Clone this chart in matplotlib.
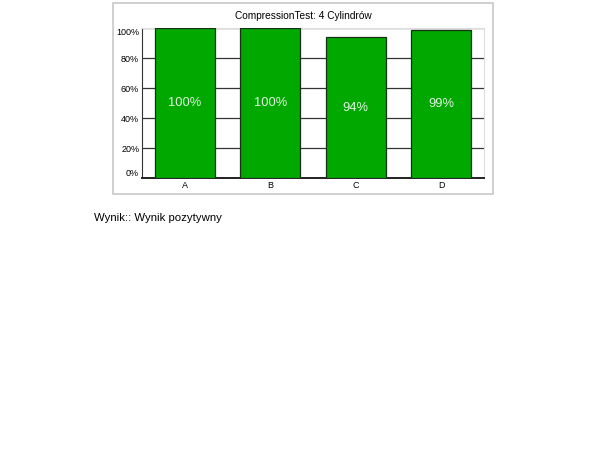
import matplotlib
matplotlib.use('Agg')
from matplotlib import pyplot as plt
from matplotlib.patches import Rectangle

# values
categories = ['A', 'B', 'C', 'D']
values = [100, 100, 94, 99]
bar_labels = ['100%', '100%', '94%', '99%']
y_ticks = [0, 20, 40, 60, 80, 100]
y_tick_labels = ['0%', '20%', '40%', '60%', '80%', '100%']
title = 'CompressionTest: 4 Cylindrów'
result_text = 'Wynik:: Wynik pozytywny'

plt.rcParams['font.family'] = ['Liberation Sans', 'DejaVu Sans']

fig = plt.figure(figsize=(6.07, 4.66), dpi=100)
fig.patch.set_facecolor('white')

# light grey frame around the chart
frame = Rectangle((0.1862, 0.5837), 0.626, 0.41, transform=fig.transFigure,
				  fill=False, edgecolor='#c8c8c8', linewidth=1.2)
fig.patches.append(frame)

ax = fig.add_axes([0.2339, 0.618, 0.5634, 0.3219])
inds = range(len(categories))
ax.bar(inds, values, width=0.7, color='#00a800', edgecolor='#163016',
	   linewidth=0.9, zorder=3)

for i, (v, lab) in enumerate(zip(values, bar_labels)):
	ax.text(i, v / 2.0, lab, ha='center', va='center', color='#e2f4e2',
			fontsize=9.3, zorder=4)

ax.set_xlim(-0.5, 3.5)
ax.set_ylim(0, 100)
ax.set_xticks(list(inds))
ax.set_xticklabels(categories, fontsize=6.5)
ax.set_yticks(y_ticks)
ax.set_yticklabels(y_tick_labels, fontsize=6.5)
ax.tick_params(axis='both', length=0, pad=2)

tl = ax.get_yticklabels()
tl[0].set_va('bottom')
tl[-1].set_va('top')

ax.yaxis.grid(True, color='#333333', linewidth=0.9, zorder=1)
ax.set_axisbelow(True)

ax.spines['left'].set_color('#333333')
ax.spines['bottom'].set_color('#222222')
ax.spines['bottom'].set_linewidth(1.4)
ax.spines['top'].set_color('#dddddd')
ax.spines['right'].set_color('#dddddd')

fig.text(303 / 607.0, 1 - 16 / 466.0, title, ha='center', va='center', fontsize=7.3)
fig.text(94 / 607.0, 1 - 218 / 466.0, result_text, ha='left', va='center', fontsize=8.2)

plt.savefig('out.png', dpi=100)
